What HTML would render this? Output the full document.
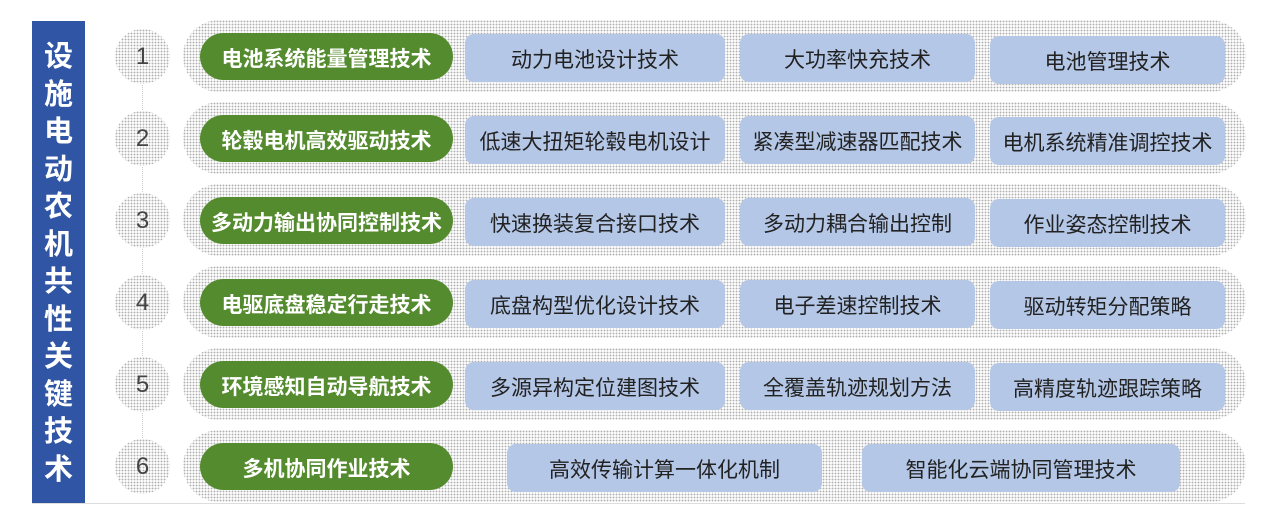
<!DOCTYPE html>
<html><head><meta charset="utf-8"><style>
body{margin:0;width:1270px;height:520px;background:#fff;position:relative;overflow:hidden;font-family:"Liberation Sans","Noto Sans CJK SC",sans-serif}
.dot{background-color:#fafafa;background-image:radial-gradient(circle,#b0b0b0 0.7px,transparent 1px);background-size:3px 3px}
.bar{position:absolute;left:32px;top:21px;width:53px;height:483px;background:#2f55a4;color:#fff;font-weight:bold;font-size:29px;line-height:37.5px;text-align:center;padding-top:18px;box-sizing:border-box}
.base{position:absolute;left:32px;top:503px;width:1213px;height:1px;background:#ddd}
.c{position:absolute;left:115px;width:55px;height:55px;border-radius:50%;font-size:24px;color:#444;text-align:center;line-height:55px}
.row{position:absolute;left:183px;width:1063px;height:72px;border-radius:36px}
.g{position:absolute;left:200px;width:253px;height:47px;border-radius:24px;background:#548b2e;color:#fff;font-weight:bold;font-size:21px;text-align:center;line-height:53px}
.b{position:absolute;height:48px;border-radius:9px;background:#b4c7e7;color:#222;font-size:21px;text-align:center;line-height:54px}
.vl{position:absolute;left:142px;top:60px;width:0;height:400px;border-left:1px dotted #ccc}
</style></head><body>
<div class="bar">设<br>施<br>电<br>动<br>农<br>机<br>共<br>性<br>关<br>键<br>技<br>术</div>
<div class="base"></div>
<div class="vl"></div>

<div class="row dot" style="top:20px"></div>
<div class="row dot" style="top:102px"></div>
<div class="row dot" style="top:184px"></div>
<div class="row dot" style="top:266px"></div>
<div class="row dot" style="top:348px"></div>
<div class="row dot" style="top:430px"></div>

<div class="c dot" style="top:29px">1</div>
<div class="c dot" style="top:111px">2</div>
<div class="c dot" style="top:193px">3</div>
<div class="c dot" style="top:275px">4</div>
<div class="c dot" style="top:357px">5</div>
<div class="c dot" style="top:439px">6</div>

<div class="g" style="top:33px">电池系统能量管理技术</div>
<div class="g" style="top:115px">轮毂电机高效驱动技术</div>
<div class="g" style="top:197px">多动力输出协同控制技术</div>
<div class="g" style="top:279px">电驱底盘稳定行走技术</div>
<div class="g" style="top:361px">环境感知自动导航技术</div>
<div class="g" style="top:443px">多机协同作业技术</div>

<div class="b" style="left:465px;width:260px;top:34px">动力电池设计技术</div>
<div class="b" style="left:740px;width:235px;top:34px">大功率快充技术</div>
<div class="b" style="left:990px;width:235px;top:36px">电池管理技术</div>

<div class="b" style="left:465px;width:260px;top:116px">低速大扭矩轮毂电机设计</div>
<div class="b" style="left:740px;width:235px;top:116px">紧凑型减速器匹配技术</div>
<div class="b" style="left:990px;width:235px;top:117px">电机系统精准调控技术</div>

<div class="b" style="left:465px;width:260px;top:198px">快速换装复合接口技术</div>
<div class="b" style="left:740px;width:235px;top:198px">多动力耦合输出控制</div>
<div class="b" style="left:990px;width:235px;top:199px">作业姿态控制技术</div>

<div class="b" style="left:465px;width:260px;top:280px">底盘构型优化设计技术</div>
<div class="b" style="left:740px;width:235px;top:280px">电子差速控制技术</div>
<div class="b" style="left:990px;width:235px;top:281px">驱动转矩分配策略</div>

<div class="b" style="left:465px;width:260px;top:362px">多源异构定位建图技术</div>
<div class="b" style="left:740px;width:235px;top:362px">全覆盖轨迹规划方法</div>
<div class="b" style="left:990px;width:235px;top:363px">高精度轨迹跟踪策略</div>

<div class="b" style="left:507px;width:315px;top:444px">高效传输计算一体化机制</div>
<div class="b" style="left:862px;width:318px;top:444px">智能化云端协同管理技术</div>
</body></html>
